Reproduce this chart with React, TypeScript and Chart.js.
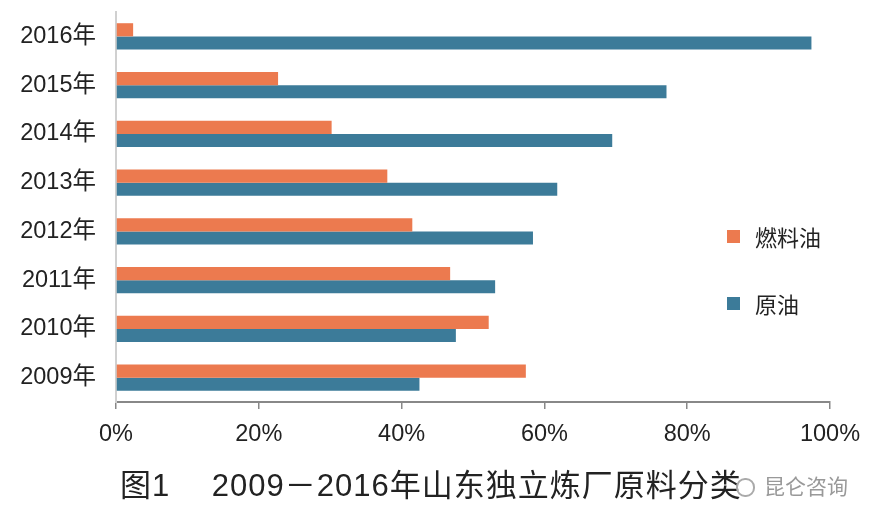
import React, { useEffect, useRef } from "react";
import { Chart, registerables } from "chart.js";

Chart.register(...registerables);

const categories = ["2016年", "2015年", "2014年", "2013年", "2012年", "2011年", "2010年", "2009年"];
const fuelOil = [2.4, 22.7, 30.2, 38.0, 41.5, 46.8, 52.2, 57.4];
const crudeOil = [97.4, 77.1, 69.5, 61.8, 58.4, 53.1, 47.6, 42.5];
const seriesNames = ["燃料油", "原油"];
const seriesColors = ["#EC7A4F", "#3C7B99"];
const xTicks = [0, 20, 40, 60, 80, 100];
const titleText = "图1　 2009－2016年山东独立炼厂原料分类";
const watermark = "昆仑咨询";

const FONT = '"Liberation Sans", "Noto Sans CJK SC", sans-serif';

export default function App() {
  const ref = useRef<HTMLCanvasElement | null>(null);

  useEffect(() => {
    if (!ref.current) return;
    const chart = new Chart(ref.current, {
      type: "bar",
      data: {
        labels: categories,
        datasets: [
          { label: seriesNames[0], data: fuelOil, backgroundColor: seriesColors[0], barPercentage: 1, categoryPercentage: 0.54 },
          { label: seriesNames[1], data: crudeOil, backgroundColor: seriesColors[1], barPercentage: 1, categoryPercentage: 0.54 },
        ],
      },
      options: {
        indexAxis: "y",
        animation: false,
        responsive: false,
        maintainAspectRatio: false,
        layout: { padding: { left: 0, right: 45, top: 12, bottom: 70 } },
        plugins: {
          legend: { display: false },
          tooltip: { enabled: false },
          title: { display: false },
        },
        scales: {
          x: {
            min: 0,
            max: 100,
            afterBuildTicks: (scale: any) => {
              scale.ticks = xTicks.map((v) => ({ value: v }));
            },
            afterFit: (scale: any) => {
              scale.height = 50;
            },
            ticks: {
              callback: (v: any) => v + "%",
              color: "#222",
              font: { family: FONT, size: 23.5 },
              padding: 11,
              maxRotation: 0,
            },
            grid: {
              display: true,
              drawOnChartArea: false,
              drawTicks: true,
              tickLength: 7,
              color: "#888",
              lineWidth: 1.5,
            },
            border: { display: true, color: "#888", width: 2 },
          },
          y: {
            afterFit: (scale: any) => {
              scale.width = 116;
              scale.paddingTop = 0;
              scale.paddingBottom = 0;
            },
            ticks: {
              color: "#222",
              font: { family: FONT, size: 23.5 },
              padding: 20,
            },
            grid: {
              display: true,
              drawOnChartArea: false,
              drawTicks: false,
              color: "rgba(0,0,0,0)",
            },
            border: { display: true, color: "#d0d0d0", width: 2 },
          },
        },
      },
    });
    return () => chart.destroy();
  }, []);

  const legendItem = (i: number, top: number) => (
    <div style={{ position: "absolute", left: 727, top, display: "flex", alignItems: "center", height: 26 }}>
      <div style={{ width: 13, height: 13, background: seriesColors[i], marginRight: 15 }} />
      <span style={{ fontFamily: FONT, fontSize: 22, color: "#222" }}>{seriesNames[i]}</span>
    </div>
  );

  return (
    <div style={{ position: "fixed", left: 0, top: 0, width: 875, height: 522, background: "#fff", overflow: "hidden" }}>
      <canvas ref={ref} width={875} height={522} style={{ position: "absolute", left: 0, top: 0 }} />
      {legendItem(0, 223)}
      {legendItem(1, 290)}
      <div
        style={{
          position: "absolute",
          left: 120,
          top: 466,
          fontFamily: FONT,
          fontSize: 31,
          letterSpacing: 1,
          color: "#222",
          whiteSpace: "pre",
          lineHeight: "40px",
        }}
      >
        {titleText}
      </div>
      <div
        style={{
          position: "absolute",
          left: 736,
          top: 474,
          fontFamily: FONT,
          fontSize: 21,
          color: "#999",
          display: "flex",
          alignItems: "center",
          lineHeight: "26px",
        }}
      >
        <span style={{ display: "inline-block", width: 15, height: 15, borderRadius: 9, border: "2px solid #aaa", marginRight: 9, background: "rgba(255,255,255,0.7)" }} />
        {watermark}
      </div>
    </div>
  );
}
